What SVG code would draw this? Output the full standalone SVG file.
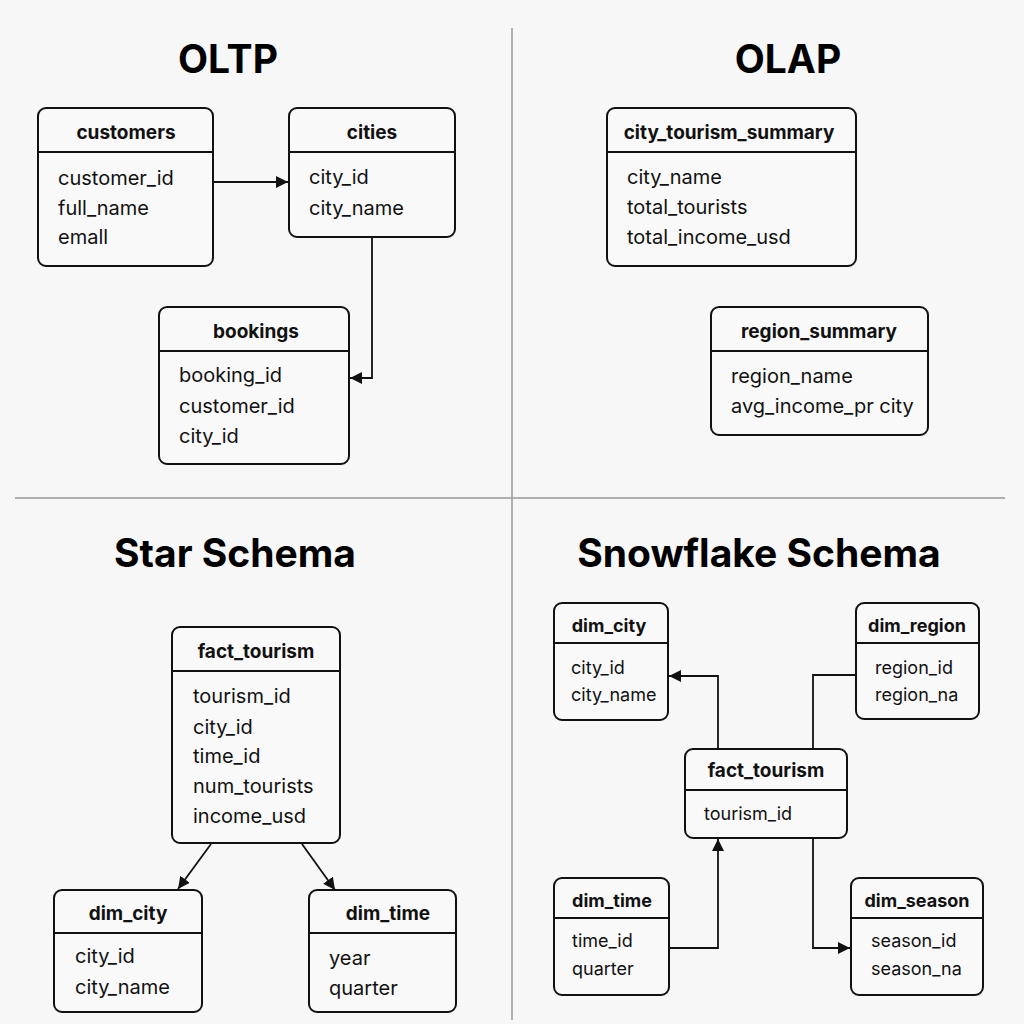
<svg xmlns="http://www.w3.org/2000/svg" width="1024" height="1024" viewBox="0 0 1024 1024">
<style>
.bg{fill:#f7f7f7}
.box{fill:#f9f9f9;stroke:#111;stroke-width:2}
.sep{stroke:#111;stroke-width:2}
.div{stroke:#999;stroke-width:1.5}
.title{font-family:Inter,"Liberation Sans",sans-serif;font-weight:700;font-size:39px;fill:#000;text-anchor:middle}
.hd{font-family:Inter,"Liberation Sans",sans-serif;font-weight:700;font-size:19px;fill:#111;text-anchor:middle}
.hs{font-size:18px}
.fd{font-family:Inter,"Liberation Sans",sans-serif;font-size:20px;fill:#111}
.fs{font-size:18px}
.conn{fill:none;stroke:#111;stroke-width:1.8}
</style>
<defs>
<marker id="arr" viewBox="0 0 10 10" refX="10" refY="5" markerWidth="12" markerHeight="12" markerUnits="userSpaceOnUse" orient="auto">
<path d="M0,0 L10,5 L0,10 z" fill="#111"/>
</marker>
</defs>
<rect class="bg" x="0" y="0" width="1024" height="1024"/>
<g id="dividers">
<line class="div" x1="512" y1="28" x2="512" y2="1020"/>
<line class="div" x1="15" y1="498" x2="1005" y2="498"/>
</g>
<g id="titles">
<text class="title" x="228" y="73">OLTP</text>
<text class="title" x="788" y="73">OLAP</text>
<text class="title" x="235" y="567">Star Schema</text>
<text class="title" x="759" y="567">Snowflake Schema</text>
</g>

<g id="oltp-customers">
<rect class="box" x="38" y="108" width="175" height="158" rx="8"/>
<line class="sep" x1="38" y1="152" x2="213" y2="152"/>
<text class="hd" x="126" y="139">customers</text>
<text class="fd" x="58" y="185">customer_id</text>
<text class="fd" x="58" y="215">full_name</text>
<text class="fd" x="58" y="244">emall</text>
</g>
<g id="oltp-cities">
<rect class="box" x="289" y="108" width="166" height="129" rx="8"/>
<line class="sep" x1="289" y1="152" x2="455" y2="152"/>
<text class="hd" x="372" y="139">cities</text>
<text class="fd" x="309" y="184">city_id</text>
<text class="fd" x="309" y="215">city_name</text>
</g>
<g id="oltp-bookings">
<rect class="box" x="159" y="307" width="190" height="157" rx="8"/>
<line class="sep" x1="159" y1="351" x2="349" y2="351"/>
<text class="hd" x="256" y="338">bookings</text>
<text class="fd" x="179" y="382">booking_id</text>
<text class="fd" x="179" y="413">customer_id</text>
<text class="fd" x="179" y="443">city_id</text>
</g>

<g id="olap-city-summary">
<rect class="box" x="607" y="108" width="249" height="158" rx="8"/>
<line class="sep" x1="607" y1="152" x2="856" y2="152"/>
<text class="hd" x="729" y="139">city_tourism_summary</text>
<text class="fd" x="627" y="184">city_name</text>
<text class="fd" x="627" y="214">total_tourists</text>
<text class="fd" x="627" y="244">total_income_usd</text>
</g>
<g id="olap-region-summary">
<rect class="box" x="711" y="307" width="217" height="128" rx="8"/>
<line class="sep" x1="711" y1="351" x2="928" y2="351"/>
<text class="hd" x="819" y="338">region_summary</text>
<text class="fd" x="731" y="383">region_name</text>
<text class="fd" x="731" y="413">avg_income_pr city</text>
</g>

<g id="star-fact">
<rect class="box" x="172" y="627" width="168" height="216" rx="8"/>
<line class="sep" x1="172" y1="671" x2="340" y2="671"/>
<text class="hd" x="256" y="658">fact_tourism</text>
<text class="fd" x="193" y="703">tourism_id</text>
<text class="fd" x="193" y="734">city_id</text>
<text class="fd" x="193" y="763">time_id</text>
<text class="fd" x="193" y="793">num_tourists</text>
<text class="fd" x="193" y="823">income_usd</text>
</g>
<g id="star-dim-city">
<rect class="box" x="54" y="890" width="148" height="122" rx="8"/>
<line class="sep" x1="54" y1="933" x2="202" y2="933"/>
<text class="hd" x="128" y="920">dim_city</text>
<text class="fd" x="75" y="963">city_id</text>
<text class="fd" x="75" y="994">city_name</text>
</g>
<g id="star-dim-time">
<rect class="box" x="309" y="890" width="147" height="122" rx="8"/>
<line class="sep" x1="309" y1="933" x2="456" y2="933"/>
<text class="hd" x="388" y="920">dim_time</text>
<text class="fd" x="329" y="965">year</text>
<text class="fd" x="329" y="995">quarter</text>
</g>

<g id="sf-dim-city">
<rect class="box" x="554" y="603" width="114" height="117" rx="8"/>
<line class="sep" x1="554" y1="643" x2="668" y2="643"/>
<text class="hd hs" x="609" y="632">dim_city</text>
<text class="fd fs" x="571" y="674">city_id</text>
<text class="fd fs" x="571" y="701">city_name</text>
</g>
<g id="sf-dim-region">
<rect class="box" x="856" y="603" width="123" height="116" rx="8"/>
<line class="sep" x1="856" y1="643" x2="979" y2="643"/>
<text class="hd hs" x="917" y="632">dim_region</text>
<text class="fd fs" x="875" y="674">region_id</text>
<text class="fd fs" x="875" y="701">region_na</text>
</g>
<g id="sf-fact">
<rect class="box" x="685" y="749" width="162" height="89" rx="8"/>
<line class="sep" x1="685" y1="790" x2="847" y2="790"/>
<text class="hd" x="766" y="777">fact_tourism</text>
<text class="fd fs" x="704" y="820">tourism_id</text>
</g>
<g id="sf-dim-time">
<rect class="box" x="554" y="878" width="115" height="117" rx="8"/>
<line class="sep" x1="554" y1="918" x2="669" y2="918"/>
<text class="hd hs" x="612" y="907">dim_time</text>
<text class="fd fs" x="572" y="947">time_id</text>
<text class="fd fs" x="572" y="975">quarter</text>
</g>
<g id="sf-dim-season">
<rect class="box" x="851" y="878" width="132" height="117" rx="8"/>
<line class="sep" x1="851" y1="918" x2="983" y2="918"/>
<text class="hd hs" x="917" y="907">dim_season</text>
<text class="fd fs" x="871" y="947">season_id</text>
<text class="fd fs" x="871" y="975">season_na</text>
</g>

<g id="connectors">
<path class="conn" d="M214,182 L288,182" marker-end="url(#arr)"/>
<path class="conn" d="M372,237 L372,378 L350,378" marker-end="url(#arr)"/>
<path class="conn" d="M211,844 L178,889" marker-end="url(#arr)"/>
<path class="conn" d="M302,844 L335,890" marker-end="url(#arr)"/>
<path class="conn" d="M718,749 L718,676 L669,676" marker-end="url(#arr)"/>
<path class="conn" d="M813,749 L813,675 L856,675"/>
<path class="conn" d="M670,948 L718,948 L718,839" marker-end="url(#arr)"/>
<path class="conn" d="M813,838 L813,948 L850,948" marker-end="url(#arr)"/>
</g>
</svg>
